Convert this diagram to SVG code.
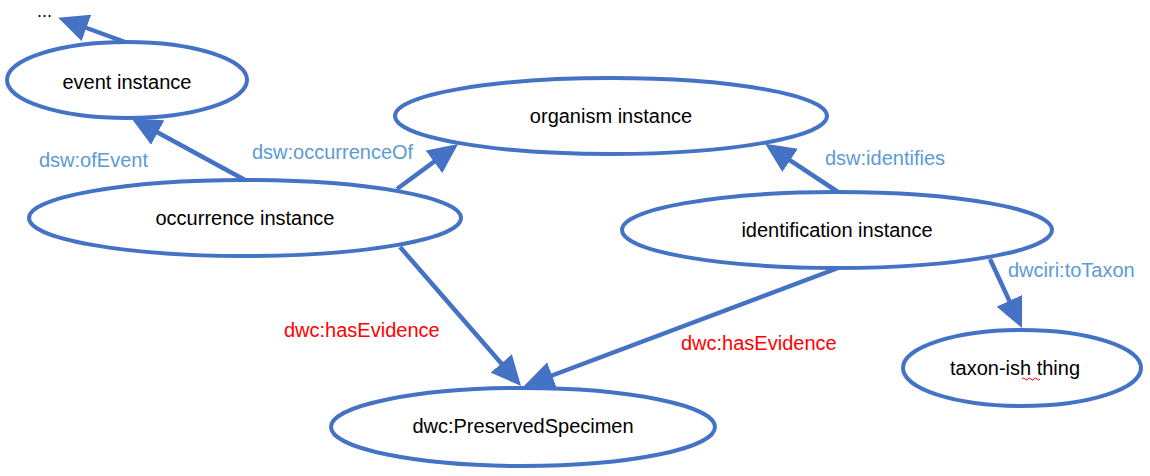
<svg xmlns="http://www.w3.org/2000/svg" width="1150" height="476" viewBox="0 0 1150 476">
<defs>
<style>
.node ellipse{fill:#fff;stroke:#4472C4;stroke-width:4}
.node text{font-family:"Liberation Sans",Arial,sans-serif;font-size:20px;fill:#000;text-anchor:middle}
.edge{stroke:#4472C4;stroke-width:4.5;fill:none;marker-end:url(#arrow)}
.lbl{font-family:"Liberation Sans",Arial,sans-serif;font-size:20px}
.blue{fill:#5B9BD5}
.red{fill:#FF0000}
</style>
<marker id="arrow" markerUnits="userSpaceOnUse" markerWidth="30" markerHeight="28" refX="10" refY="14" orient="auto">
<path d="M0,0 L30,14 L0,28 z" fill="#4472C4"/>
</marker>
</defs>
<rect width="1150" height="476" fill="#fff"/>
<text x="37" y="17" class="lbl" fill="#000" style="font-size:18px">...</text>
<g id="event" class="node"><ellipse cx="127" cy="80" rx="120" ry="38"/><text x="127" y="89">event instance</text></g>
<g id="organism" class="node"><ellipse cx="611" cy="116" rx="216" ry="38"/><text x="611" y="123">organism instance</text></g>
<g id="occurrence" class="node"><ellipse cx="245" cy="218" rx="216" ry="38"/><text x="245" y="225">occurrence instance</text></g>
<g id="identification" class="node"><ellipse cx="837" cy="230" rx="215" ry="38"/><text x="837" y="237">identification instance</text></g>
<g id="taxon" class="node"><ellipse cx="1022" cy="368" rx="119" ry="38"/><text x="1015" y="375">taxon-ish thing</text>
<path d="M1022,379 q1.5,-2 3,0 t3,0 t3,0 t3,0 t3,0 t3,0" stroke="#FF0000" stroke-width="1" fill="none"/></g>
<g id="specimen" class="node"><ellipse cx="523" cy="427" rx="192" ry="39"/><text x="523" y="433">dwc:PreservedSpecimen</text></g>
<g id="connectors">
<line class="edge" x1="125" y1="42" x2="77" y2="24.5"/>
<line class="edge" x1="245" y1="180" x2="149" y2="127.7"/>
<line class="edge" x1="397" y1="189" x2="442" y2="155.9"/>
<line class="edge" x1="838" y1="192" x2="781.8" y2="154.8"/>
<line class="edge" x1="400" y1="247" x2="507.9" y2="370.9"/>
<line class="edge" x1="838" y1="268" x2="542.7" y2="379"/>
<line class="edge" x1="990" y1="259" x2="1013.6" y2="309.9"/>
<text class="lbl blue" x="39" y="167">dsw:ofEvent</text>
<text class="lbl blue" x="252" y="159">dsw:occurrenceOf</text>
<text class="lbl blue" x="825" y="165">dsw:identifies</text>
<text class="lbl red" x="284" y="337">dwc:hasEvidence</text>
<text class="lbl red" x="681" y="350">dwc:hasEvidence</text>
<text class="lbl blue" x="1008" y="277">dwciri:toTaxon</text>
</g>
</svg>
